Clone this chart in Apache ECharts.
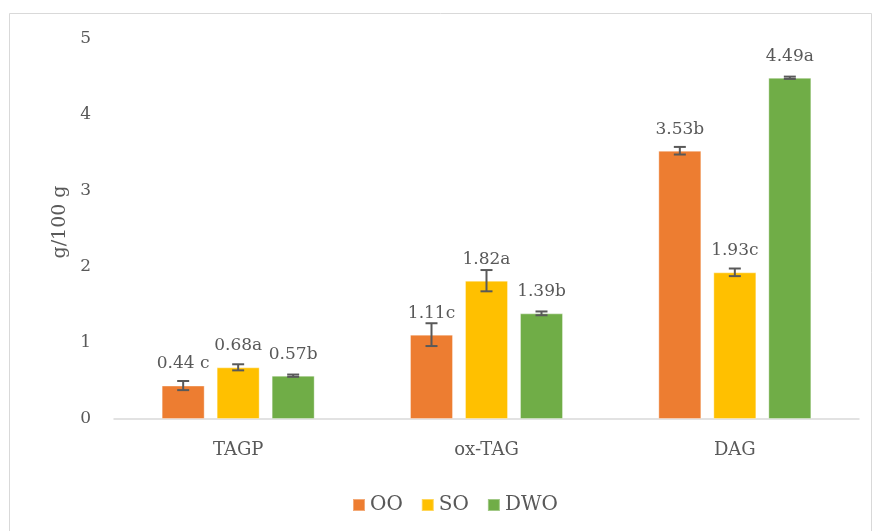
<!DOCTYPE html>
<html>
<head>
<meta charset="utf-8">
<script src="https://cdn.jsdelivr.net/npm/echarts@6/dist/echarts.min.js"></script>
<style>html,body{margin:0;padding:0;background:#fff;}#c{width:873px;height:531px;}</style>
</head>
<body>
<div id="c"></div>
<script>
const categories = ['TAGP', 'ox-TAG', 'DAG'];
const seriesNames = ['OO', 'SO', 'DWO'];
const ooValues = [0.44, 1.11, 3.53];
const soValues = [0.68, 1.82, 1.93];
const dwoValues = [0.57, 1.39, 4.49];
const ooErrors = [0.06, 0.15, 0.05];
const soErrors = [0.04, 0.14, 0.05];
const dwoErrors = [0.015, 0.025, 0.015];
const ooLabels = ['0.44 c', '1.11c', '3.53b'];
const soLabels = ['0.68a', '1.82a', '1.93c'];
const dwoLabels = ['0.57b', '1.39b', '4.49a'];
const yTicks = [0, 1, 2, 3, 4, 5];

const colors = ['#ED7D31', '#FFC000', '#70AD47'];
const values = [ooValues, soValues, dwoValues];
const errors = [ooErrors, soErrors, dwoErrors];
const labels = [ooLabels, soLabels, dwoLabels];
const FONT = 'DejaVu Serif';
const TXT = '#595959';
const BAR_W = 43, BAR_GAP = 12;

const chart = echarts.init(document.getElementById('c'));
const series = [];
values.forEach((vals, i) => {
  series.push({
    name: seriesNames[i],
    type: 'bar',
    barWidth: BAR_W,
    barGap: (BAR_GAP / BAR_W * 100) + '%',
    itemStyle: { color: colors[i], borderColor: 'rgba(255,255,255,0.35)', borderWidth: 1 },
    label: {
      show: true, position: 'top', distance: 13,
      color: TXT, fontFamily: FONT, fontSize: 17,
      formatter: p => labels[i][p.dataIndex]
    },
    data: vals
  });
});
values.forEach((vals, i) => {
  const off = (i - 1) * (BAR_W + BAR_GAP);
  series.push({
    type: 'custom',
    silent: true,
    z: 5,
    renderItem: function (params, api) {
      const x = api.value(0), y = api.value(1), e = api.value(2);
      const t = api.coord([x, y + e]);
      const b = api.coord([x, y - e]);
      const cx = t[0] + off;
      const cap = 6;
      const st = { stroke: '#595959', lineWidth: 2 };
      return {
        type: 'group',
        children: [
          { type: 'line', shape: { x1: cx, y1: t[1], x2: cx, y2: b[1] }, style: st },
          { type: 'line', shape: { x1: cx - cap, y1: t[1], x2: cx + cap, y2: t[1] }, style: st },
          { type: 'line', shape: { x1: cx - cap, y1: b[1], x2: cx + cap, y2: b[1] }, style: st }
        ]
      };
    },
    encode: { x: 0, y: 1 },
    data: vals.map((v, j) => [j, v, errors[i][j]])
  });
});

chart.setOption({
  animation: false,
  backgroundColor: '#fff',
  graphic: [{
    type: 'rect', shape: { x: 9.5, y: 13.5, width: 862, height: 560 },
    style: { fill: 'none', stroke: '#D9D9D9', lineWidth: 1 }, silent: true
  }],
  grid: { left: 114, right: 14, top: 39, bottom: 112 },
  legend: {
    left: 347, top: 490,
    itemWidth: 12, itemHeight: 12, itemGap: 18,
    icon: 'rect',
    data: seriesNames,
    textStyle: { color: TXT, fontFamily: FONT, fontSize: 20 }
  },
  xAxis: {
    type: 'category',
    data: categories,
    axisLine: { lineStyle: { color: '#D9D9D9', width: 1.5 } },
    axisTick: { show: false },
    axisLabel: { color: TXT, fontFamily: FONT, fontSize: 18, margin: 22 }
  },
  yAxis: {
    type: 'value',
    min: yTicks[0], max: yTicks[yTicks.length - 1], interval: 1,
    name: 'g/100 g', nameLocation: 'middle', nameGap: 44,
    nameTextStyle: { color: TXT, fontFamily: FONT, fontSize: 19, padding: [0, 0, 0, 14] },
    axisLine: { show: false },
    axisTick: { show: false },
    splitLine: { show: false },
    axisLabel: { color: TXT, fontFamily: FONT, fontSize: 17, margin: 23 }
  },
  series: series
});
</script>
</body>
</html>
